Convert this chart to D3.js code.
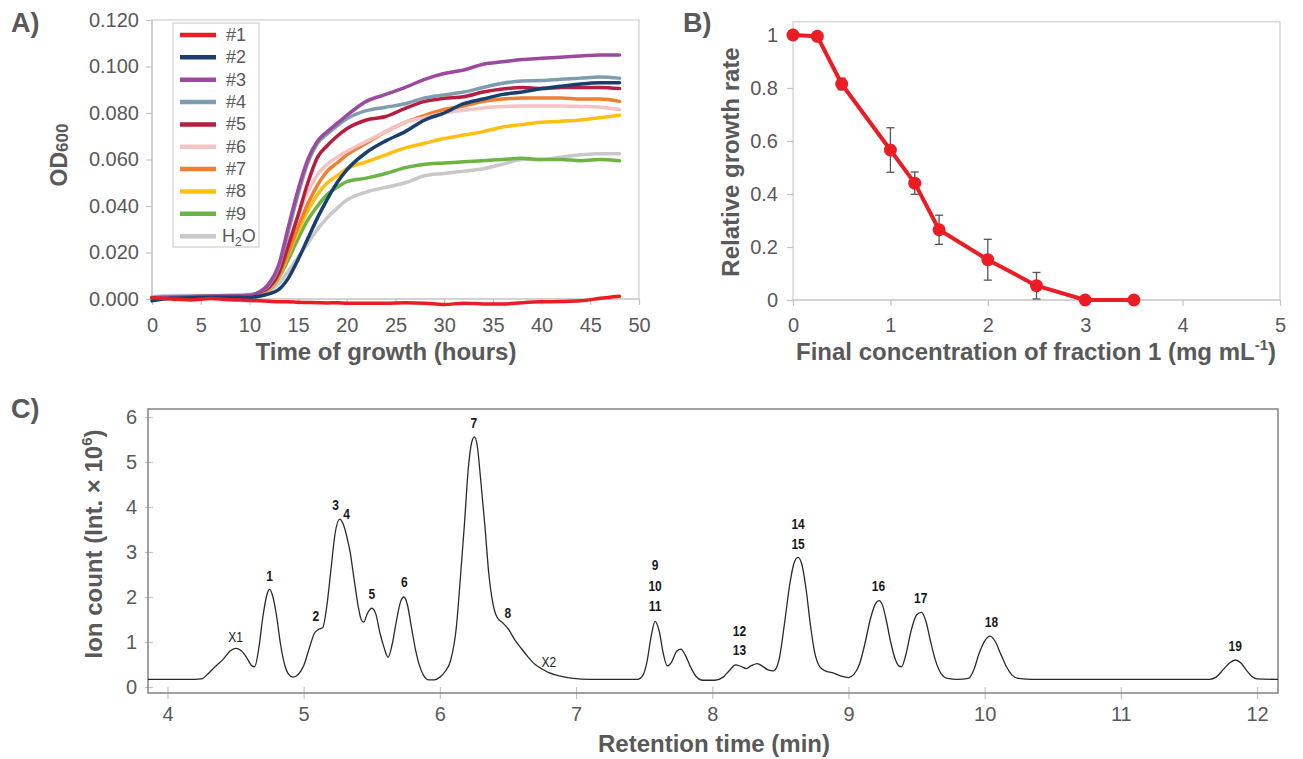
<!DOCTYPE html>
<html>
<head>
<meta charset="utf-8">
<script src="https://cdn.jsdelivr.net/npm/d3@7"></script>
<style>
  body { margin: 0; background: #fff; }
  text { font-family: "Liberation Sans", Arial, sans-serif; }
</style>
</head>
<body>
<svg id="fig" width="1303" height="759"></svg>
<script>
// ---------- A) growth curves ----------
const hours = [0, 2, 4, 6, 8, 10, 11, 12, 13, 14, 15, 16, 17, 18, 19, 20, 22, 24, 26, 28, 30, 32, 34, 36, 38, 40, 42, 44, 46, 48];
const seriesNames = ["#1", "#2", "#3", "#4", "#5", "#6", "#7", "#8", "#9", "H2O"];
const seriesColors = ["#ec1c24", "#1b3f6d", "#9b4a9e", "#7f9db0", "#b81d3f", "#f6c3c3", "#f07f2f", "#fdc010", "#6cb545", "#c8c8ca"];
const od1 = [0.0005, 0.0000, -0.0004, 0.0002, -0.0003, -0.0006, -0.0008, -0.0010, -0.0012, -0.0012, -0.0014, -0.0015, -0.0016, -0.0017, -0.0016, -0.0018, -0.0018, -0.0018, -0.0016, -0.0018, -0.0024, -0.0018, -0.0021, -0.0022, -0.0016, -0.0012, -0.0011, -0.0008, 0.0003, 0.0012];
const od2 = [-0.0008, 0.0003, 0.0005, 0.0008, 0.0008, 0.0006, 0.0012, 0.0022, 0.0040, 0.0090, 0.0170, 0.0260, 0.0350, 0.0430, 0.0500, 0.0555, 0.0630, 0.0680, 0.0720, 0.0770, 0.0800, 0.0840, 0.0860, 0.0880, 0.0890, 0.0905, 0.0915, 0.0925, 0.0930, 0.0930];
const od3 = [0.0005, 0.0008, 0.0010, 0.0012, 0.0013, 0.0015, 0.0030, 0.0065, 0.0145, 0.0310, 0.0470, 0.0600, 0.0680, 0.0720, 0.0755, 0.0790, 0.0850, 0.0880, 0.0910, 0.0945, 0.0970, 0.0985, 0.1010, 0.1020, 0.1030, 0.1035, 0.1040, 0.1045, 0.1050, 0.1050];
const od4 = [0.0008, 0.0010, 0.0012, 0.0013, 0.0014, 0.0016, 0.0030, 0.0060, 0.0135, 0.0290, 0.0450, 0.0585, 0.0670, 0.0710, 0.0745, 0.0775, 0.0810, 0.0825, 0.0840, 0.0865, 0.0878, 0.0890, 0.0910, 0.0928, 0.0938, 0.0940, 0.0945, 0.0950, 0.0955, 0.0950];
const od5 = [0.0005, 0.0008, 0.0010, 0.0012, 0.0013, 0.0015, 0.0028, 0.0050, 0.0110, 0.0230, 0.0360, 0.0500, 0.0610, 0.0660, 0.0700, 0.0732, 0.0770, 0.0785, 0.0820, 0.0850, 0.0863, 0.0870, 0.0890, 0.0903, 0.0910, 0.0905, 0.0910, 0.0910, 0.0910, 0.0905];
const od6 = [0.0005, 0.0008, 0.0010, 0.0012, 0.0013, 0.0015, 0.0028, 0.0050, 0.0120, 0.0240, 0.0360, 0.0460, 0.0535, 0.0580, 0.0610, 0.0635, 0.0678, 0.0720, 0.0760, 0.0780, 0.0800, 0.0812, 0.0822, 0.0828, 0.0830, 0.0830, 0.0830, 0.0828, 0.0825, 0.0815];
const od7 = [0.0005, 0.0008, 0.0010, 0.0012, 0.0013, 0.0015, 0.0026, 0.0045, 0.0100, 0.0200, 0.0310, 0.0410, 0.0490, 0.0550, 0.0585, 0.0620, 0.0670, 0.0720, 0.0760, 0.0790, 0.0815, 0.0830, 0.0850, 0.0860, 0.0865, 0.0865, 0.0865, 0.0860, 0.0860, 0.0850];
const od8 = [0.0005, 0.0008, 0.0010, 0.0012, 0.0013, 0.0015, 0.0025, 0.0042, 0.0095, 0.0190, 0.0290, 0.0380, 0.0450, 0.0500, 0.0530, 0.0560, 0.0590, 0.0620, 0.0650, 0.0670, 0.0690, 0.0705, 0.0720, 0.0740, 0.0750, 0.0760, 0.0765, 0.0770, 0.0780, 0.0790];
const od9 = [0.0005, 0.0008, 0.0010, 0.0012, 0.0013, 0.0015, 0.0024, 0.0040, 0.0090, 0.0170, 0.0260, 0.0340, 0.0400, 0.0450, 0.0480, 0.0505, 0.0520, 0.0540, 0.0565, 0.0580, 0.0585, 0.0590, 0.0595, 0.0600, 0.0605, 0.0600, 0.0600, 0.0595, 0.0600, 0.0595];
const odWater = [0.0010, 0.0015, 0.0015, 0.0015, 0.0018, 0.0020, 0.0025, 0.0035, 0.0065, 0.0120, 0.0180, 0.0240, 0.0300, 0.0350, 0.0390, 0.0425, 0.0460, 0.0480, 0.0500, 0.0530, 0.0540, 0.0550, 0.0560, 0.0580, 0.0600, 0.0600, 0.0610, 0.0620, 0.0625, 0.0625];
const odTicks = [0, 0.02, 0.04, 0.06, 0.08, 0.10, 0.12];
const hourTicks = [0, 5, 10, 15, 20, 25, 30, 35, 40, 45, 50];

// ---------- B) dose response ----------
const conc = [0, 0.25, 0.5, 1, 1.25, 1.5, 2, 2.5, 3, 3.5];
const growthRate = [1, 0.995, 0.815, 0.566, 0.441, 0.265, 0.152, 0.054, 0, 0];
const growthErr = [0, 0, 0.022, 0.084, 0.042, 0.055, 0.077, 0.05, 0, 0];
const concTicks = [0, 1, 2, 3, 4, 5];
const rateTicks = [0, 0.2, 0.4, 0.6, 0.8, 1];

// ---------- C) chromatogram ----------
const rtMin = [3.857, 4.0, 4.2, 4.25, 4.30, 4.35, 4.41, 4.46, 4.50, 4.54, 4.58, 4.62, 4.64, 4.67, 4.70, 4.73, 4.75, 4.77, 4.80, 4.83, 4.86, 4.89, 4.92, 4.96,
  5.00, 5.04, 5.08, 5.11, 5.14, 5.17, 5.20, 5.23, 5.265, 5.29, 5.32, 5.34, 5.37, 5.40, 5.42, 5.44, 5.47, 5.50, 5.53, 5.56, 5.59, 5.62, 5.65, 5.68, 5.71, 5.735,
  5.76, 5.79, 5.82, 5.85, 5.88, 5.92, 5.96, 6.00, 6.04, 6.08, 6.12, 6.15, 6.18, 6.21, 6.235, 6.255, 6.275, 6.30, 6.33, 6.36, 6.39, 6.42, 6.46, 6.50, 6.55,
  6.60, 6.65, 6.70, 6.75, 6.80, 6.85, 6.90, 6.98, 7.10, 7.45, 7.49, 7.52, 7.55, 7.58, 7.61, 7.64, 7.67, 7.70, 7.74, 7.77, 7.80, 7.84, 7.88, 7.93, 8.02,
  8.08, 8.13, 8.17, 8.21, 8.25, 8.29, 8.33, 8.37, 8.41, 8.45, 8.49, 8.53, 8.57, 8.60, 8.63, 8.66, 8.69, 8.72, 8.75, 8.79, 8.83, 8.88, 8.94, 9.00, 9.04,
  9.08, 9.12, 9.16, 9.20, 9.225, 9.25, 9.28, 9.31, 9.34, 9.37, 9.39, 9.42, 9.46, 9.50, 9.535, 9.57, 9.60, 9.64, 9.68, 9.73, 9.80, 9.88, 9.92, 9.96, 10.00,
  10.04, 10.08, 10.12, 10.16, 10.20, 10.25, 10.35, 11.0, 11.65, 11.70, 11.75, 11.80, 11.84, 11.88, 11.92, 11.96, 12.00, 12.154];
const ionCount = [0.17, 0.17, 0.17, 0.18, 0.30, 0.45, 0.62, 0.80, 0.86, 0.81, 0.66, 0.47, 0.45, 0.85, 1.55, 2.05, 2.17, 2.05, 1.60, 0.95, 0.50, 0.28, 0.22, 0.28,
  0.47, 0.85, 1.20, 1.28, 1.32, 1.80, 2.60, 3.40, 3.73, 3.62, 3.30, 3.02, 2.40, 1.80, 1.52, 1.44, 1.65, 1.75, 1.62, 1.20, 0.88, 0.66, 0.95, 1.45, 1.88, 2.00,
  1.85, 1.35, 0.85, 0.48, 0.26, 0.16, 0.16, 0.22, 0.35, 0.60, 1.30, 2.40, 3.60, 4.90, 5.45, 5.56, 5.35, 4.60, 3.60, 2.50, 1.85, 1.55, 1.43, 1.30, 1.05,
  0.85, 0.66, 0.50, 0.40, 0.32, 0.27, 0.23, 0.19, 0.17, 0.17, 0.26, 0.55, 1.10, 1.46, 1.25, 0.75, 0.47, 0.55, 0.80, 0.84, 0.72, 0.45, 0.24, 0.15, 0.15,
  0.22, 0.38, 0.49, 0.46, 0.41, 0.48, 0.52, 0.46, 0.38, 0.36, 0.60, 1.40, 2.30, 2.75, 2.88, 2.70, 2.15, 1.40, 0.80, 0.45, 0.36, 0.32, 0.25, 0.21, 0.28,
  0.50, 0.95, 1.50, 1.86, 1.92, 1.82, 1.45, 1.00, 0.65, 0.47, 0.45, 0.70, 1.25, 1.60, 1.66, 1.45, 1.05, 0.58, 0.30, 0.19, 0.17, 0.19, 0.38, 0.75, 1.02,
  1.13, 1.00, 0.72, 0.45, 0.27, 0.19, 0.17, 0.17, 0.17, 0.22, 0.38, 0.54, 0.60, 0.54, 0.38, 0.24, 0.18, 0.17];
const peakNames = ["X1", "1", "2", "3", "4", "5", "6", "7", "8", "X2", "9", "10", "11", "12", "13", "14", "15", "16", "17", "18", "19"];
const peakTimes = [4.50, 4.75, 5.09, 5.235, 5.315, 5.50, 5.74, 6.25, 6.50, 6.80, 7.58, 7.58, 7.58, 8.20, 8.20, 8.63, 8.63, 9.22, 9.53, 10.05, 11.84];
const peakLevels = [1.12, 2.48, 1.59, 4.06, 3.85, 2.07, 2.35, 5.87, 1.66, 0.56, 2.72, 2.26, 1.80, 1.25, 0.83, 3.64, 3.19, 2.26, 1.98, 1.45, 0.92];
const rtTicks = [4, 5, 6, 7, 8, 9, 10, 11, 12];
const ionTicks = [0, 1, 2, 3, 4, 5, 6];

const svg = d3.select("#fig");
const grey = "#595959";

function styleAxis(g, size) {
  g.select(".domain").remove();
  g.selectAll(".tick line").attr("stroke", "#c4c4c4").attr("stroke-width", 1.2);
  g.selectAll(".tick text").attr("fill", grey).style("font-size", size + "px");
}

function frame(x, y, color, width) {
  svg.append("rect")
    .attr("x", x.range()[0]).attr("y", y.range()[1])
    .attr("width", x.range()[1] - x.range()[0])
    .attr("height", y.range()[0] - y.range()[1])
    .attr("fill", "none").attr("stroke", color).attr("stroke-width", width);
}

function panelLetter(txt, x, y) {
  svg.append("text").attr("x", x).attr("y", y).text(txt)
    .attr("fill", grey).style("font-size", "27px").style("font-weight", "bold");
}

// ===== Panel A =====
const xA = d3.scaleLinear().domain([0, 50]).range([152, 639]);
const yA = d3.scaleLinear().domain([0, 0.12]).range([299, 20]);
frame(xA, yA, "#cfcfcf", 1.2);

svg.append("g").attr("transform", `translate(0,${yA(0)})`)
  .call(d3.axisBottom(xA).tickValues(hourTicks).tickSize(6).tickPadding(13))
  .call(g => styleAxis(g, 20));
svg.append("g").attr("transform", `translate(${xA(0)},0)`)
  .call(d3.axisLeft(yA).tickValues(odTicks).tickFormat(d3.format(".3f")).tickSize(6).tickPadding(7))
  .call(g => styleAxis(g, 20));
svg.append("line").attr("x1", xA(0)).attr("x2", xA(50)).attr("y1", yA(0)).attr("y2", yA(0)).attr("stroke", "#c4c4c4").attr("stroke-width", 1.2);
svg.append("line").attr("x1", xA(0)).attr("x2", xA(0)).attr("y1", yA(0)).attr("y2", yA(0.12)).attr("stroke", "#c4c4c4").attr("stroke-width", 1.2);

const odSeries = [od1, od2, od3, od4, od5, od6, od7, od8, od9, odWater];
const lineA = d3.line().x((d, i) => xA(hours[i])).y(d => yA(d)).curve(d3.curveMonotoneX);
// draw H2O first so #1 ends on top
for (let k = odSeries.length - 1; k >= 0; k--) {
  svg.append("path").attr("d", lineA(odSeries[k]))
    .attr("fill", "none").attr("stroke", seriesColors[k]).attr("stroke-width", 3.5)
    .attr("stroke-linejoin", "round").attr("stroke-linecap", "round");
}

// legend
const leg = svg.append("g").attr("transform", "translate(173,23)");
leg.append("rect").attr("width", 86).attr("height", 224).attr("fill", "#fff").attr("stroke", "#cfcfcf").attr("stroke-width", 1.2);
seriesNames.forEach((name, i) => {
  const y = 12 + i * 22.35;
  leg.append("line").attr("x1", 7).attr("x2", 43).attr("y1", y).attr("y2", y)
    .attr("stroke", seriesColors[i]).attr("stroke-width", 4.5);
  const t = leg.append("text").attr("x", name === "H2O" ? 49 : 53).attr("y", y + 6)
    .attr("fill", grey).style("font-size", "18px");
  if (name === "H2O") {
    t.append("tspan").text("H");
    t.append("tspan").text("2").style("font-size", "12px").attr("dy", 4);
    t.append("tspan").text("O").attr("dy", -4);
  } else {
    t.text(name);
  }
});

svg.append("text").attr("x", 386).attr("y", 360).attr("text-anchor", "middle")
  .attr("fill", grey).style("font-size", "24px").style("font-weight", "bold")
  .text("Time of growth (hours)");
const odLabel = svg.append("text").attr("transform", "translate(67,155) rotate(-90)")
  .attr("text-anchor", "middle").attr("fill", grey).style("font-weight", "bold");
odLabel.append("tspan").text("OD").style("font-size", "23px");
odLabel.append("tspan").text("600").style("font-size", "17px").attr("dy", 1);
panelLetter("A)", 11, 32);

// ===== Panel B =====
const xB = d3.scaleLinear().domain([0, 5]).range([793, 1280]);
const yB = d3.scaleLinear().domain([0, 1.05]).range([300, 21.75]);
frame(xB, yB, "#cfcfcf", 1.2);
svg.append("g").attr("transform", `translate(0,${yB(0)})`)
  .call(d3.axisBottom(xB).tickValues(concTicks).tickFormat(d3.format("d")).tickSize(6).tickPadding(12))
  .call(g => styleAxis(g, 20));
svg.append("g").attr("transform", `translate(${xB(0)},0)`)
  .call(d3.axisLeft(yB).tickValues(rateTicks).tickFormat(d => d === 0 || d === 1 ? d3.format("d")(d) : d3.format(".1f")(d)).tickSize(6).tickPadding(9))
  .call(g => styleAxis(g, 20));
svg.append("line").attr("x1", xB(0)).attr("x2", xB(5)).attr("y1", yB(0)).attr("y2", yB(0)).attr("stroke", "#c4c4c4").attr("stroke-width", 1.2);

const ptsB = conc.map((c, i) => ({ c, r: growthRate[i], e: growthErr[i] }));
const errG = svg.append("g").attr("stroke", "#555").attr("stroke-width", 1.3);
ptsB.filter(d => d.e > 0).forEach(d => {
  errG.append("line").attr("x1", xB(d.c)).attr("x2", xB(d.c)).attr("y1", yB(d.r - d.e)).attr("y2", yB(d.r + d.e));
  errG.append("line").attr("x1", xB(d.c) - 4).attr("x2", xB(d.c) + 4).attr("y1", yB(d.r - d.e)).attr("y2", yB(d.r - d.e));
  errG.append("line").attr("x1", xB(d.c) - 4).attr("x2", xB(d.c) + 4).attr("y1", yB(d.r + d.e)).attr("y2", yB(d.r + d.e));
});
svg.append("path").attr("d", d3.line().x(d => xB(d.c)).y(d => yB(d.r))(ptsB))
  .attr("fill", "none").attr("stroke", "#ec1c24").attr("stroke-width", 4).attr("stroke-linejoin", "round");
svg.append("g").selectAll("circle").data(ptsB).join("circle")
  .attr("cx", d => xB(d.c)).attr("cy", d => yB(d.r)).attr("r", 6.5).attr("fill", "#ec1c24");

const bTitle = svg.append("text").attr("x", 1036).attr("y", 360).attr("text-anchor", "middle")
  .attr("fill", grey).style("font-size", "24px").style("font-weight", "bold");
bTitle.append("tspan").text("Final concentration of fraction 1 (mg mL");
bTitle.append("tspan").text("-1").style("font-size", "15px").attr("dy", -10);
bTitle.append("tspan").text(")").attr("dy", 10);
svg.append("text").attr("transform", "translate(739,162) rotate(-90)").attr("text-anchor", "middle")
  .attr("fill", grey).style("font-size", "24px").style("font-weight", "bold")
  .text("Relative growth rate");
panelLetter("B)", 683, 32);

// ===== Panel C =====
const xC = d3.scaleLinear().domain([3.857, 12.154]).range([148, 1278]);
const yC = d3.scaleLinear().domain([-0.133, 6.178]).range([693, 409]);
svg.append("g").attr("transform", `translate(0,${yC.range()[0]})`)
  .call(d3.axisBottom(xC).tickValues(rtTicks).tickSize(6).tickPadding(8))
  .call(g => styleAxis(g, 20))
  .call(g => g.selectAll(".tick line").attr("y1", -6).attr("y2", 6));
svg.append("g").attr("transform", `translate(${xC.range()[0]},0)`)
  .call(d3.axisLeft(yC).tickValues(ionTicks).tickFormat(d3.format("d")).tickSize(5).tickPadding(6))
  .call(g => styleAxis(g, 20))
  .call(g => g.selectAll(".tick line").attr("x1", -3).attr("x2", 5));
frame(xC, yC, "#8a8a8a", 1.6);

const lineC = d3.line().x((d, i) => xC(rtMin[i])).y(d => yC(d)).curve(d3.curveMonotoneX);
svg.append("path").attr("d", lineC(ionCount)).attr("fill", "none").attr("stroke", "#2a2a2a").attr("stroke-width", 1.3);

// peak labels: narrow look obtained by squeezing the text horizontally
svg.append("g").selectAll("text").data(peakNames).join("text")
  .attr("transform", (d, i) => `translate(${xC(peakTimes[i])},${yC(peakLevels[i])}) scale(0.8,1)`)
  .attr("dy", "0.36em").attr("text-anchor", "middle").attr("fill", "#1a1a1a")
  .style("font-size", "15px")
  .style("font-weight", d => d.startsWith("X") ? "normal" : "bold")
  .text(d => d);

svg.append("text").attr("x", 714).attr("y", 752).attr("text-anchor", "middle")
  .attr("fill", grey).style("font-size", "24px").style("font-weight", "bold")
  .text("Retention time (min)");
const cTitle = svg.append("text").attr("transform", "translate(102,544) rotate(-90)").attr("text-anchor", "middle")
  .attr("fill", grey).style("font-size", "24px").style("font-weight", "bold");
cTitle.append("tspan").text("Ion count (Int. × 10");
cTitle.append("tspan").text("6").style("font-size", "15px").attr("dy", -10);
cTitle.append("tspan").text(")").attr("dy", 10);
panelLetter("C)", 11, 418);
</script>
</body>
</html>
